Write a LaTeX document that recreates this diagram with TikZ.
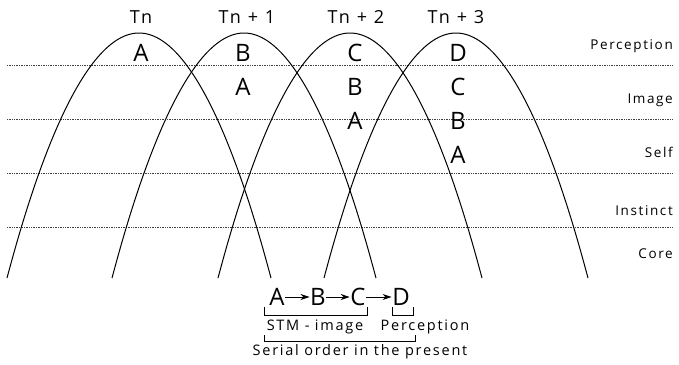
\documentclass[tikz,border=0pt]{standalone}
\usepackage{fontspec}
\setmainfont{Open Sans}
\newfontfamily\spacedfont[LetterSpace=12]{Open Sans}
\usetikzlibrary{arrows.meta,positioning}
\begin{document}
\begin{tikzpicture}[x=1pt,y=-1pt,
    level/.style={densely dotted,black!75,line width=0.7pt},
    wave/.style={line width=1pt},
    letter/.style={font=\fontsize{24}{24}\selectfont,inner sep=0pt},
    time/.style={font=\spacedfont\fontsize{18}{18}\selectfont,inner sep=0pt},
    layer/.style={font=\spacedfont\fontsize{13.5}{13.5}\selectfont,inner sep=0pt,anchor=east},
    small/.style={font=\spacedfont\fontsize{14.5}{14.5}\selectfont,inner sep=0pt},
    seq/.style={font=\fontsize{24}{24}\selectfont,inner sep=0pt},
    link/.style={-{Stealth[length=9pt,width=6pt]},line width=1pt,shorten >=0.5pt,shorten <=0.5pt}]
\useasboundingbox (0,0) rectangle (679,364);
% Niveis
\foreach \y in {65,119,173,227}
    \draw[level] (7,\y) -- (673,\y);
% Curvas
\foreach \c in {139,244,350,456}
    \draw[wave] (\c-132,278) parabola bend (\c,33) (\c+132,278);
% Tempos
\node[time] (t0) at (141,17) {Tn};
\node[time] (t1) at (247,17) {Tn + 1};
\node[time] (t2) at (356,17) {Tn + 2};
\node[time] (t3) at (456,17) {Tn + 3};
% Conteudos
\node[letter] (a0) at (141,53) {A};
\node[letter] (b1) at (243,53) {B};
\node[letter] (a1) at (243,87) {A};
\node[letter] (c2) at (355,53) {C};
\node[letter] (b2) at (355,87) {B};
\node[letter] (a2) at (355,121) {A};
\node[letter] (d3) at (458,53) {D};
\node[letter] (c3) at (458,87) {C};
\node[letter] (b3) at (458,121) {B};
\node[letter] (a3) at (458,155) {A};
% Camadas
\node[layer] (per) at (673,46) {Perception};
\node[layer] (ima) at (673,100) {Image};
\node[layer] (sel) at (673,152) {Self};
\node[layer] (ins) at (673,211) {Instinct};
\node[layer] (cor) at (673,254) {Core};
% Ordem serial
\node[seq] (sA) at (277,297) {A};
\node[seq] (sB) at (318,297) {B};
\node[seq] (sC) at (358,297) {C};
\node[seq] (sD) at (401,297) {D};
\draw[link] (sA) -- (sB);
\draw[link] (sB) -- (sC);
\draw[link] (sC) -- (sD);
\draw[line width=0.8pt] (264,307) -- (264,315) -- (367,315) -- (367,307);
\draw[line width=0.8pt] (392,307) -- (392,315) -- (413,315) -- (413,307);
\node[small] (stm) at (315,327) {STM - image};
\node[small] (pr) at (425,327) {Perception};
\draw[line width=0.8pt] (264,335) -- (264,341) -- (415,341) -- (415,335);
\node[small] (ser) at (360,352) {Serial order in the present};
\end{tikzpicture}
\end{document}
